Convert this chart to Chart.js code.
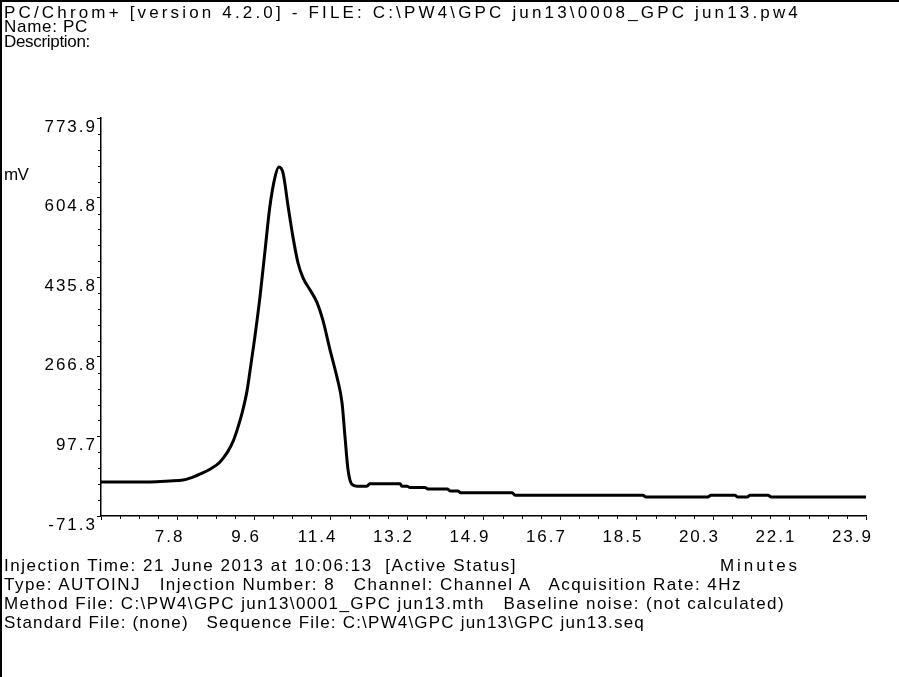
<!DOCTYPE html>
<html>
<head>
<meta charset="utf-8">
<script src="https://cdn.jsdelivr.net/npm/chart.js@4.4.1/dist/chart.umd.min.js"></script>
<style>
  html, body { margin: 0; padding: 0; background: #fff; }
  #wrap { position: relative; width: 899px; height: 677px; overflow: hidden; }
  #wrap canvas { position: absolute; left: 0; top: 0; }
  #frame { position: absolute; left: 0; top: 0; width: 899px; height: 677px;
    border-left: 2px solid #000; border-top: 2px solid #000; box-sizing: border-box; }
  .txt { position: absolute; font-family: "Liberation Sans", Arial, sans-serif; font-size: 17px;
    color: #000; white-space: pre; line-height: 17px; }
</style>
</head>
<body>
<div id="wrap">
  <canvas id="chart" width="899" height="677"></canvas>
  <div id="frame"></div>
  <div class="txt" style="left:4px;top:4px" data-w="797">PC/Chrom+ [version 4.2.0] - FILE: C:\PW4\GPC jun13\0008_GPC jun13.pw4</div>
  <div class="txt" style="left:4px;top:18px" data-w="84">Name: PC</div>
  <div class="txt" style="left:4px;top:33px" data-w="86">Description:</div>
  <div class="txt" style="left:4px;top:166px" data-w="24">mV</div>
  <div class="txt" style="left:4px;top:557px" data-w="513">Injection Time: 21 June 2013 at 10:06:13  [Active Status]</div>
  <div class="txt" style="left:720px;top:557px" data-w="80">Minutes</div>
  <div class="txt" style="left:4px;top:576px" data-w="738">Type: AUTOINJ   Injection Number: 8   Channel: Channel A   Acquisition Rate: 4Hz</div>
  <div class="txt" style="left:4px;top:595px" data-w="781">Method File: C:\PW4\GPC jun13\0001_GPC jun13.mth   Baseline noise: (not calculated)</div>
  <div class="txt" style="left:4px;top:614px" data-w="641">Standard File: (none)   Sequence File: C:\PW4\GPC jun13\GPC jun13.seq</div>
</div>
<script>
// detector trace
const timeMin = [6.0, 7.15, 7.61, 7.92, 8.08, 8.32, 8.55, 8.78, 8.97, 9.09,
  9.18, 9.30, 9.42, 9.49, 9.60, 9.72, 9.84, 9.95, 10.07, 10.16,
  10.26, 10.38, 10.49, 10.61, 10.73, 10.89, 11.05, 11.19, 11.36, 11.52,
  11.64, 11.71, 11.78, 11.87, 11.99, 12.22, 12.29, 13.00, 13.04, 13.16,
  13.23, 13.58, 13.65, 14.10, 14.17, 14.35, 14.42, 15.62, 15.69, 18.68,
  18.75, 20.20, 20.27, 20.83, 20.90, 21.12, 21.19, 21.61, 21.68, 23.90];
const signalMv = [1, 1, 3, 5, 9, 18, 28, 43, 66, 87,
  110, 147, 196, 239, 309, 394, 494, 585, 648, 670,
  657, 585, 522, 466, 434, 409, 383, 345, 281, 224,
  169, 96, 27, -4, -8, -8, -3, -3, -8, -8,
  -11, -11, -14, -14, -18, -18, -22, -22, -27, -27,
  -31, -31, -27, -27, -31, -31, -27, -27, -31, -31];

const xTickValues = [6.0, 7.79, 9.58, 11.37, 13.16, 14.95, 16.74, 18.53, 20.32, 22.11, 23.9];
const xTickLabels = ["", "7.8", "9.6", "11.4", "13.2", "14.9", "16.7", "18.5", "20.3", "22.1", "23.9"];
const yTickValues = [-71.3, 97.74, 266.78, 435.82, 604.86, 773.9];
const yTickLabels = ["-71.3", "97.7", "266.8", "435.8", "604.8", "773.9"];

// stretch each text line to the width it has in the reference
document.querySelectorAll(".txt[data-w]").forEach((el) => {
  const w = el.getBoundingClientRect().width;
  const n = el.textContent.length;
  el.style.letterSpacing = (Number(el.dataset.w) - w) / n + "px";
});

const tickFont = { family: "Liberation Sans, Arial, sans-serif", size: 17 };

// small ticks between the labelled ones
const minorTicks = {
  id: "minorTicks",
  beforeDraw(chart) {
    chart.ctx.letterSpacing = "2px";
  },
  afterDraw(chart) {
    const { ctx } = chart;
    const { x, y } = chart.scales;
    ctx.save();
    ctx.strokeStyle = "#000";
    ctx.lineWidth = 1;
    ctx.beginPath();
    for (let i = 0; i < xTickValues.length - 1; i++) {
      const step = (xTickValues[i + 1] - xTickValues[i]) / 4;
      for (let k = 1; k < 4; k++) {
        const px = Math.round(x.getPixelForValue(xTickValues[i] + k * step)) + 0.5;
        ctx.moveTo(px, x.top);
        ctx.lineTo(px, x.top + 3);
      }
    }
    for (let i = 0; i < yTickValues.length - 1; i++) {
      const step = (yTickValues[i + 1] - yTickValues[i]) / 5;
      for (let k = 1; k < 5; k++) {
        const py = Math.round(y.getPixelForValue(yTickValues[i] + k * step)) + 0.5;
        ctx.moveTo(y.right - 3, py);
        ctx.lineTo(y.right, py);
      }
    }
    ctx.stroke();
    ctx.restore();
  },
};

new Chart(document.getElementById("chart"), {
  type: "line",
  data: {
    datasets: [
      {
        data: timeMin.map((t, i) => ({ x: t, y: signalMv[i] })),
        borderColor: "#000",
        borderWidth: 3,
        pointRadius: 0,
        cubicInterpolationMode: "monotone",
        borderJoinStyle: "round",
      },
    ],
  },
  options: {
    responsive: false,
    animation: false,
    events: [],
    layout: { padding: { left: 11, top: 118, right: 33, bottom: 121 } },
    plugins: { legend: { display: false }, tooltip: { enabled: false } },
    scales: {
      x: {
        type: "linear",
        min: 6.0,
        max: 23.9,
        afterBuildTicks: (scale) => {
          scale.ticks = xTickValues.map((v) => ({ value: v }));
        },
        afterFit: (scale) => {
          scale.height = 40;
        },
        ticks: {
          callback: (v, i) => xTickLabels[i],
          autoSkip: false,
          maxRotation: 0,
          align: "end",
          labelOffset: 7,
          padding: 7,
          color: "#000",
          font: tickFont,
        },
        grid: { drawOnChartArea: false, tickLength: 4, tickColor: "#000", tickWidth: 1 },
        border: { color: "#000", width: 1.5 },
      },
      y: {
        type: "linear",
        min: -71.3,
        max: 773.9,
        afterBuildTicks: (scale) => {
          scale.ticks = yTickValues.map((v) => ({ value: v }));
        },
        afterFit: (scale) => {
          scale.width = 90;
        },
        ticks: {
          callback: (v, i) => yTickLabels[i],
          autoSkip: false,
          labelOffset: 9,
          padding: 0,
          color: "#000",
          font: tickFont,
        },
        grid: { drawOnChartArea: false, tickLength: 4, tickColor: "#000", tickWidth: 1 },
        border: { color: "#000", width: 1.5 },
      },
    },
  },
  plugins: [minorTicks],
});
</script>
</body>
</html>
